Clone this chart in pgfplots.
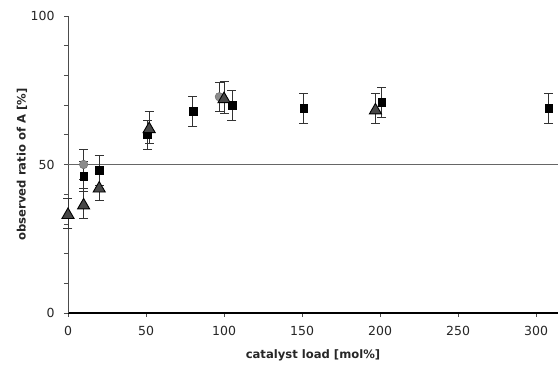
\documentclass[border=0pt]{standalone}
\usepackage{fontspec}
\setmainfont{DejaVu Sans}
\usepackage{pgfplots}
\pgfplotsset{compat=1.18}
\begin{document}
\begin{tikzpicture}
\path[use as bounding box] (-68pt,-53pt) rectangle (490pt,313pt);
\begin{axis}[
  at={(0,0)}, anchor=south west,
  scale only axis, width=490pt, height=297pt,
  xmin=0, xmax=314, ymin=0, ymax=100,
  axis x line=bottom, axis y line=left,
  axis line style={-},
  x axis line style={black, line width=1.6pt},
  y axis line style={black!70, line width=0.8pt},
  xtick={0,50,...,300}, ytick={0,50,100},
  minor ytick={10,20,30,40,60,70,80,90},
  tick align=outside,
  major tick length=4pt, minor tick length=4pt,
  tick style={black!70, line width=0.6pt},
  /pgf/number format/assume math mode=true,
  ticklabel style={font=\fontsize{12.5}{14}\selectfont, text=black!85},
  xticklabel style={yshift=-6pt},
  yticklabel style={xshift=-6pt},
  xlabel={\textbf{catalyst load [mol\%]}},
  ylabel={\textbf{observed ratio of A [\%]}},
  label style={font=\fontsize{11.6}{13}\selectfont, text=black!85},
  xlabel style={at={(axis description cs:0.5,-0.141)}, anchor=center},
  ylabel style={at={(axis description cs:-0.094,0.5)}, anchor=center, rotate=0},
  clip=false,
  error bars/error bar style={black!80, line width=0.7pt},
  error bars/error mark options={rotate=90, mark size=4.5pt, black!80, line width=0.7pt},
]
\addplot[black!60, line width=0.8pt, forget plot] coordinates {(0,50) (314,50)};
% gray circles
\addplot[only marks, mark=*, mark size=4.3pt, mark options={fill=black!45, draw=black!60},
  error bars/.cd, y dir=both, y explicit]
  coordinates {(10,50) +- (0,5) (97,72.8) +- (0,5)};
% black squares
\addplot[only marks, mark=square*, mark size=3.9pt, mark options={fill=black, draw=black},
  error bars/.cd, y dir=both, y explicit]
  coordinates {(10,46) +- (0,5) (20,48) +- (0,5) (51,60) +- (0,5)
   (80,68) +- (0,5) (105,70) +- (0,5) (151,69) +- (0,5) (201,71) +- (0,5) (308,69) +- (0,5)};
% triangles
\addplot[only marks, mark=triangle*, mark size=7pt, mark options={fill=black!72, draw=black, line width=0.9pt, yshift=-1.75pt},
  error bars/.cd, y dir=both, y explicit]
  coordinates {(0,33.6) +- (0,5) (10,36.8) +- (0,5) (20,42.5) +- (0,4.5) (52,62.5) +- (0,5.4)
   (100,72.6) +- (0,5.3) (197,68.8) +- (0,5)};
\end{axis}
\end{tikzpicture}
\end{document}
